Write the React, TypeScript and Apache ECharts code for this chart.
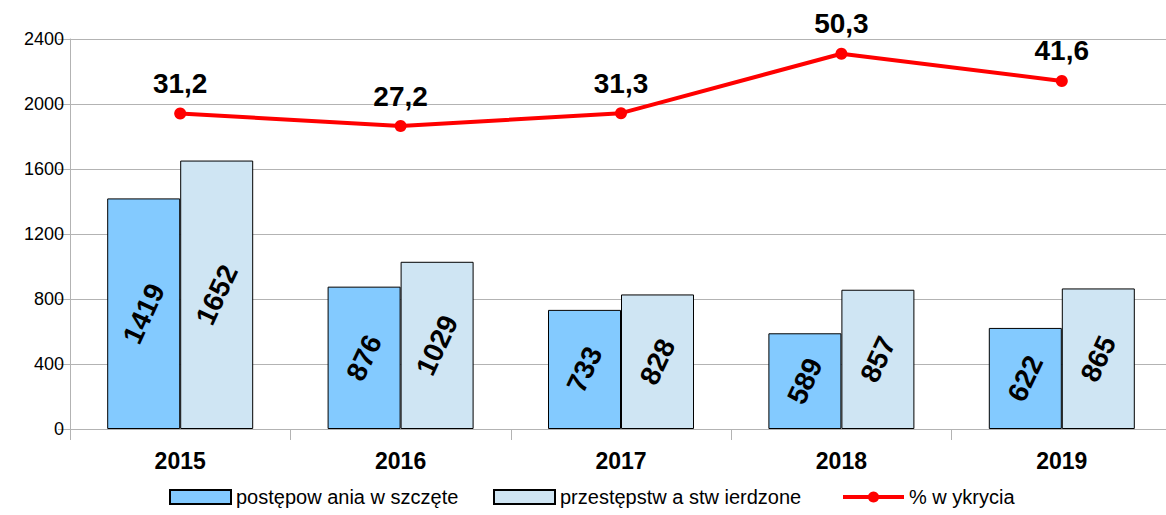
import React, { useEffect, useRef } from "react";
import * as echarts from "echarts";

const years = ["2015", "2016", "2017", "2018", "2019"];
const wszczete = [1419, 876, 733, 589, 622];
const stwierdzone = [1652, 1029, 828, 857, 865];
const wykrycie = [31.2, 27.2, 31.3, 50.3, 41.6];
const yTicks = { min: 0, max: 2400, interval: 400 };
const legendNames = ["postępow ania w szczęte", "przestępstw a stw ierdzone", "% w ykrycia"];

const FONT = "Liberation Sans, Arial, sans-serif";

export default function App() {
  const ref = useRef<HTMLDivElement>(null);
  useEffect(() => {
    const chart = echarts.init(ref.current!, null, { renderer: "svg" });
    const barLabel = {
      show: true,
      position: "inside",
      rotate: 65,
      fontSize: 28,
      fontWeight: "bold",
      color: "#000",
      fontFamily: FONT,
      formatter: (p: any) => String(p.value),
    };
    const legendLefts = [164, 488, 836];
    const legendBase = {
      bottom: 3,
      itemWidth: 61,
      itemHeight: 14,
      itemGap: 7,
      textStyle: { fontSize: 20, color: "#000", fontFamily: FONT },
    };
    chart.setOption({
      animation: false,
      textStyle: { fontFamily: FONT },
      grid: { left: 70, width: 1102, top: 39, bottom: 86, containLabel: false },
      legend: legendNames.map((n, i) => ({
        ...legendBase,
        left: legendLefts[i],
        data: [
          i < 2
            ? { name: n, icon: "rect" }
            : { name: n, lineStyle: { width: 4, color: "#ff0000" }, itemStyle: { color: "#ff0000" } },
        ],
      })),
      xAxis: {
        type: "category",
        data: years,
        axisLine: { lineStyle: { color: "#b3b3b3", width: 1 } },
        axisTick: { show: true, length: 11, lineStyle: { color: "#b3b3b3" } },
        axisLabel: { fontSize: 23, fontWeight: "bold", color: "#000", margin: 20, fontFamily: FONT },
      },
      yAxis: [
        {
          type: "value",
          min: yTicks.min,
          max: yTicks.max,
          interval: yTicks.interval,
          axisLine: { show: true, lineStyle: { color: "#b3b3b3" } },
          axisTick: { show: true, length: 12, lineStyle: { color: "#b3b3b3" } },
          splitLine: { lineStyle: { color: "#b3b3b3", width: 1 } },
          axisLabel: {
            fontSize: 18,
            color: "#000",
            margin: 6,
            fontFamily: FONT,
            formatter: (v: number) => String(v),
          },
        },
        { type: "value", min: -69.6, max: 55.0, show: false, splitLine: { show: false } },
      ],
      series: [
        {
          name: legendNames[0],
          type: "bar",
          data: wszczete,
          barWidth: 73,
          barGap: "0%",
          itemStyle: { color: "#83caff", borderColor: "#000", borderWidth: 1 },
          label: barLabel,
        },
        {
          name: legendNames[1],
          type: "bar",
          data: stwierdzone,
          barWidth: 73,
          barGap: "0%",
          itemStyle: { color: "#cfe5f3", borderColor: "#000", borderWidth: 1 },
          label: barLabel,
        },
        {
          name: legendNames[2],
          type: "line",
          yAxisIndex: 1,
          data: wykrycie,
          symbol: "circle",
          symbolSize: 12,
          lineStyle: { color: "#ff0000", width: 4 },
          itemStyle: { color: "#ff0000" },
          label: {
            show: true,
            position: "top",
            distance: 10,
            fontSize: 28,
            fontWeight: "bold",
            color: "#000",
            fontFamily: FONT,
            formatter: (p: any) => String(p.value).replace(".", ","),
          },
        },
      ],
    });
    return () => chart.dispose();
  }, []);
  return (
    <div style={{ position: "fixed", left: 0, top: 0, width: 1166, height: 515, overflow: "hidden", background: "#fff" }}>
      <div ref={ref} style={{ width: 1180, height: 515 }} />
    </div>
  );
}
